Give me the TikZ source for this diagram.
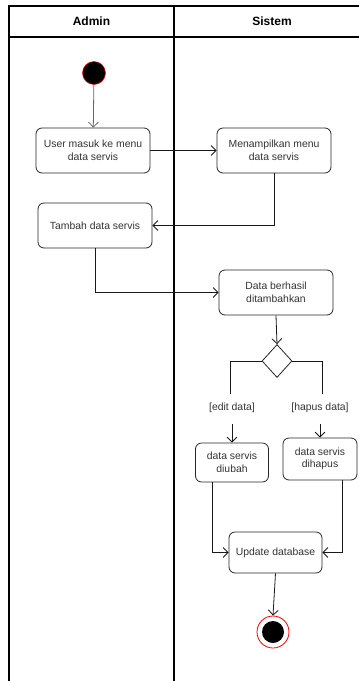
\documentclass[tikz,border=0pt]{standalone}
\usepackage{fontspec}
\setmainfont{Liberation Sans}
\usetikzlibrary{arrows.meta,shapes.geometric}

\begin{document}
\begin{tikzpicture}[x=1pt,y=-1pt,>={Straight Barb[length=5pt,width=10pt]}]

	\tikzstyle{act}   = [rectangle, rounded corners=6pt, draw=black!85, line width=0.8pt, fill=white, align=center, font=\fontsize{10.4}{12.5}\selectfont, text=black!80]
	\tikzstyle{dec}   = [diamond, draw=black!85, line width=0.8pt, fill=white, minimum width=30pt, minimum height=33pt, inner sep=0pt]
	\tikzstyle{guard} = [inner sep=1pt, font=\fontsize{10.4}{12.5}\selectfont, text=black!80]
	\tikzstyle{flow}  = [draw=black!90, line width=0.8pt]
	\tikzstyle{lane}  = [draw=black, line width=1.1pt]

	\useasboundingbox (0,0) rectangle (359,681);
	\clip (0,0) rectangle (359,681);

	% swimlanes
	\draw [lane] (9,690) -- (9,6) -- (370,6);
	\draw [lane] (9,37) -- (370,37);
	\draw [lane] (174,6) -- (174,690);
	\node [font=\fontsize{12}{14}\selectfont\bfseries] (hadmin) at (91.5,21) {Admin};
	\node [font=\fontsize{12}{14}\selectfont\bfseries] (hsis) at (272,21) {Sistem};

	% admin
	\node [circle, fill=black, draw=red, line width=0.5pt, minimum size=23pt, inner sep=0pt] (start) at (94,73) {};
	\node [act, minimum width=114pt, minimum height=45pt] (a1) at (93,150.5) {User masuk ke menu\\data servis};
	\node [act, minimum width=114pt, minimum height=45pt] (a2) at (95,225.5) {Tambah data servis};

	% sistem
	\node [act, minimum width=114pt, minimum height=45pt] (s1) at (274,150.5) {Menampilkan menu\\data servis};
	\node [act, minimum width=114pt, minimum height=45pt] (s2) at (276,292.5) {Data berhasil\\ditambahkan};
	\node [dec] (d1) at (277,361) {};
	\node [guard] (g1) at (232,408) {[edit data]};
	\node [guard] (g2) at (320,408) {[hapus data]};
	\node [act, minimum width=73pt, minimum height=39pt] (s3) at (232,462.5) {data servis\\diubah};
	\node [act, minimum width=74pt, minimum height=42pt] (s4) at (320,459) {data servis\\dihapus};
	\node [act, minimum width=93pt, minimum height=41pt] (s5) at (275.5,552.5) {Update database};
	\node [circle, draw=red, line width=0.8pt, fill=white, minimum size=32pt, inner sep=0pt] (end) at (273,632) {};
	\node [circle, fill=black, minimum size=22pt, inner sep=0pt] (endin) at (end) {};

	\draw [flow, ->, draw=black!60] (start) -- (a1);
	\draw [flow, ->] (a1) -- (s1);
	\draw [flow, ->] (s1.south) |- (a2.east);
	\draw [flow, ->] (a2.south) |- (s2.west);
	\draw [flow, ->] (s2.south) -- (d1.north);
	\draw [flow] (d1.west) -| ([xshift=-2pt,yshift=8pt]g1.north);
	\draw [flow, ->] ([yshift=-10pt]g1.south) -- (s3.north);
	\draw [flow] (d1.east) -| ([xshift=2pt,yshift=8pt]g2.north);
	\draw [flow, ->] ([yshift=-10pt]g2.south) -- (s4.north);
	\draw [flow, ->] ([xshift=-20pt]s3.south) |- (s5.west);
	\draw [flow, ->] ([xshift=22pt]s4.south) |- (s5.east);
	\draw [flow, ->] (s5.south) -- (end.north);

\end{tikzpicture}
\end{document}
